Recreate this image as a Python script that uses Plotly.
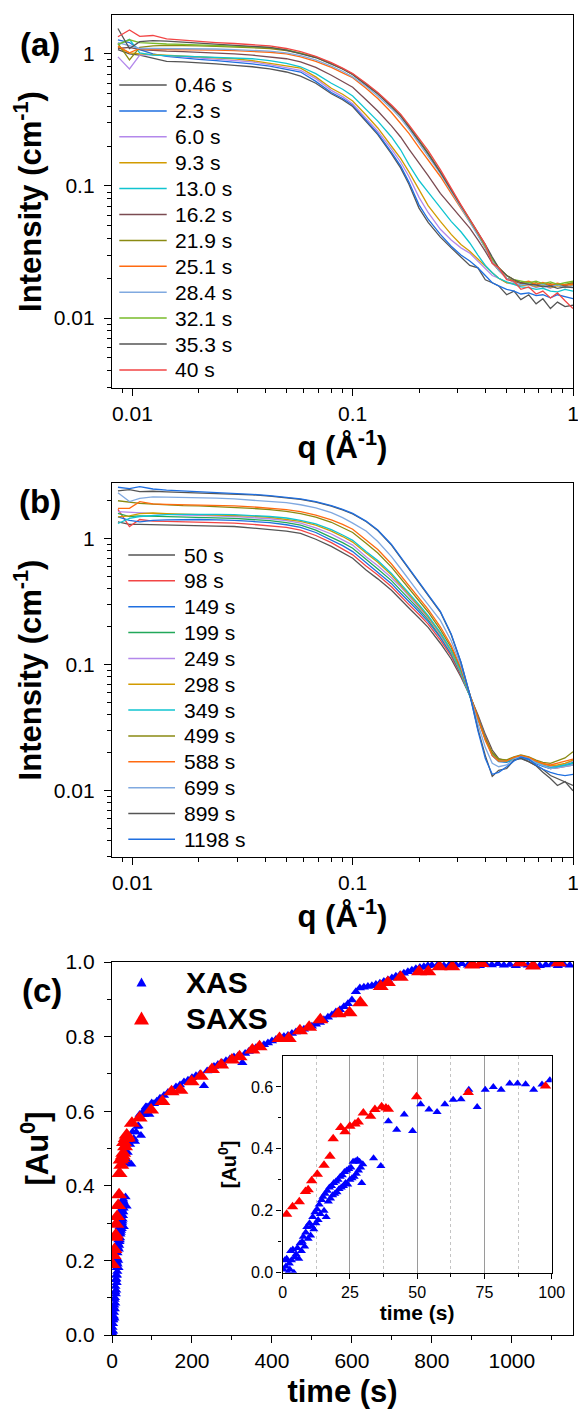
import plotly.graph_objects as go

# ------------------------------------------------------------------ data
Q = [0.0086, 0.0097, 0.0108, 0.0124, 0.0143, 0.017, 0.020, 0.024, 0.029, 0.035,
     0.042, 0.050, 0.058, 0.068, 0.080, 0.090, 0.100, 0.115, 0.130, 0.150,
     0.165, 0.180, 0.200, 0.220, 0.250, 0.280, 0.310, 0.340, 0.370, 0.400,
     0.430, 0.460, 0.500, 0.540, 0.580, 0.630, 0.680, 0.730, 0.790, 0.850,
     0.920, 1.000]

# panel (a)
LEG_A = ["0.46 s", "2.3 s", "6.0 s", "9.3 s", "13.0 s", "16.2 s", "21.9 s",
         "25.1 s", "28.4 s", "32.1 s", "35.3 s", "40 s"]
COL_A = ["#555555", "#1f6fe0", "#b388eb", "#d29b00", "#10c4d0", "#7b4b52",
         "#8a8a12", "#ff6a10", "#80a9e0", "#79bb2a", "#555555", "#f24545"]
I_a_046 = [1.08, 1.00, 0.98, 0.93, 0.88, 0.87, 0.86, 0.84, 0.82, 0.80, 0.77, 0.73, 0.68, 0.60, 0.50, 0.45, 0.40, 0.31, 0.245, 0.175, 0.137, 0.103, 0.068, 0.053, 0.041, 0.034, 0.029, 0.025, 0.024, 0.0195, 0.0185, 0.0175, 0.0150, 0.0160, 0.0138, 0.0150, 0.0128, 0.0140, 0.0118, 0.0132, 0.0122, 0.0125]
I_a_23 = [1.28, 1.22, 1.08, 1.00, 0.96, 0.93, 0.91, 0.89, 0.87, 0.84, 0.81, 0.77, 0.73, 0.62, 0.51, 0.46, 0.41, 0.315, 0.25, 0.18, 0.142, 0.107, 0.072, 0.056, 0.043, 0.035, 0.030, 0.027, 0.024, 0.021, 0.0185, 0.0175, 0.0165, 0.0160, 0.0152, 0.0155, 0.0148, 0.0150, 0.0142, 0.0150, 0.0145, 0.0140]
I_a_60 = [0.95, 0.77, 0.98, 0.99, 0.97, 0.95, 0.94, 0.92, 0.90, 0.87, 0.83, 0.79, 0.75, 0.65, 0.53, 0.475, 0.42, 0.325, 0.26, 0.19, 0.152, 0.118, 0.082, 0.063, 0.047, 0.039, 0.034, 0.031, 0.027, 0.024, 0.021, 0.020, 0.0185, 0.0180, 0.0175, 0.0178, 0.0170, 0.0175, 0.0168, 0.0178, 0.0172, 0.0190]
I_a_93 = [1.12, 1.02, 1.00, 0.99, 0.98, 0.96, 0.95, 0.94, 0.92, 0.89, 0.85, 0.81, 0.78, 0.67, 0.55, 0.495, 0.44, 0.345, 0.275, 0.20, 0.162, 0.128, 0.094, 0.071, 0.054, 0.043, 0.036, 0.032, 0.028, 0.0245, 0.022, 0.020, 0.0185, 0.0182, 0.0175, 0.0180, 0.0172, 0.0178, 0.0170, 0.0176, 0.0170, 0.0178]
I_a_130 = [1.17, 1.29, 1.02, 0.98, 0.97, 0.96, 0.96, 0.95, 0.94, 0.92, 0.89, 0.85, 0.80, 0.71, 0.60, 0.54, 0.48, 0.38, 0.31, 0.235, 0.188, 0.145, 0.11, 0.09, 0.068, 0.054, 0.045, 0.037, 0.030, 0.025, 0.022, 0.020, 0.0188, 0.0180, 0.0172, 0.0170, 0.0165, 0.0168, 0.0160, 0.0158, 0.0165, 0.0160]
I_a_162 = [1.10, 1.12, 1.08, 1.06, 1.05, 1.04, 1.03, 1.02, 1.00, 0.98, 0.95, 0.92, 0.87, 0.79, 0.69, 0.62, 0.56, 0.45, 0.37, 0.285, 0.235, 0.19, 0.15, 0.12, 0.088, 0.070, 0.058, 0.048, 0.039, 0.032, 0.026, 0.023, 0.020, 0.0190, 0.0182, 0.0185, 0.0178, 0.0182, 0.0175, 0.0180, 0.0176, 0.0182]
I_a_219 = [1.20, 0.90, 1.12, 1.15, 1.16, 1.16, 1.15, 1.14, 1.13, 1.12, 1.10, 1.06, 1.01, 0.94, 0.84, 0.77, 0.70, 0.59, 0.50, 0.40, 0.34, 0.28, 0.22, 0.175, 0.126, 0.092, 0.070, 0.055, 0.043, 0.034, 0.027, 0.023, 0.020, 0.0190, 0.0185, 0.0180, 0.0185, 0.0178, 0.0182, 0.0176, 0.0180, 0.0185]
I_a_251 = [1.15, 1.02, 1.10, 1.08, 1.08, 1.08, 1.08, 1.07, 1.06, 1.05, 1.03, 1.00, 0.95, 0.88, 0.79, 0.72, 0.66, 0.55, 0.46, 0.36, 0.30, 0.25, 0.195, 0.157, 0.118, 0.088, 0.068, 0.054, 0.043, 0.034, 0.028, 0.024, 0.021, 0.0195, 0.0185, 0.0190, 0.0180, 0.0186, 0.0178, 0.0184, 0.0178, 0.0180]
I_a_284 = [1.22, 1.15, 1.10, 1.10, 1.10, 1.10, 1.10, 1.09, 1.08, 1.07, 1.05, 1.02, 0.97, 0.90, 0.81, 0.74, 0.67, 0.57, 0.48, 0.385, 0.325, 0.27, 0.21, 0.168, 0.124, 0.091, 0.069, 0.054, 0.043, 0.034, 0.027, 0.023, 0.020, 0.0185, 0.0178, 0.0182, 0.0175, 0.0180, 0.0172, 0.0178, 0.0170, 0.0175]
I_a_321 = [1.18, 1.28, 1.22, 1.20, 1.19, 1.18, 1.17, 1.16, 1.15, 1.14, 1.12, 1.08, 1.02, 0.95, 0.85, 0.775, 0.70, 0.595, 0.505, 0.405, 0.345, 0.285, 0.225, 0.178, 0.128, 0.093, 0.071, 0.055, 0.044, 0.035, 0.028, 0.024, 0.021, 0.0195, 0.0190, 0.0185, 0.0190, 0.0182, 0.0188, 0.0180, 0.0185, 0.0190]
I_a_353 = [1.56, 1.10, 1.24, 1.26, 1.25, 1.23, 1.21, 1.19, 1.17, 1.15, 1.12, 1.07, 1.01, 0.94, 0.84, 0.77, 0.70, 0.59, 0.50, 0.40, 0.34, 0.28, 0.22, 0.176, 0.127, 0.093, 0.071, 0.056, 0.045, 0.036, 0.029, 0.024, 0.021, 0.0195, 0.0185, 0.0180, 0.0178, 0.0172, 0.0175, 0.0168, 0.0172, 0.0170]
I_a_40 = [1.35, 1.52, 1.36, 1.38, 1.30, 1.27, 1.24, 1.22, 1.20, 1.18, 1.15, 1.10, 1.04, 0.96, 0.86, 0.78, 0.71, 0.60, 0.51, 0.41, 0.35, 0.29, 0.23, 0.185, 0.133, 0.095, 0.072, 0.056, 0.044, 0.036, 0.026, 0.024, 0.0195, 0.0190, 0.0165, 0.0172, 0.0152, 0.0160, 0.0142, 0.0155, 0.0135, 0.0118]

# panel (b)
LEG_B = ["50 s", "98 s", "149 s", "199 s", "249 s", "298 s", "349 s", "499 s",
         "588 s", "699 s", "899 s", "1198 s"]
COL_B = ["#555555", "#f24545", "#1f6fe0", "#22a85a", "#b388eb", "#d29b00",
         "#10c4d0", "#8a8a12", "#ff6a10", "#80a9e0", "#555555", "#1f6fe0"]
I_b_50 = [1.36, 1.30, 1.30, 1.29, 1.28, 1.28, 1.27, 1.26, 1.25, 1.22, 1.19, 1.15, 1.10, 0.99, 0.87, 0.78, 0.70, 0.564, 0.48, 0.39, 0.326, 0.282, 0.235, 0.198, 0.148, 0.111, 0.080, 0.057, 0.040, 0.028, 0.021, 0.018, 0.0172, 0.0178, 0.0182, 0.0170, 0.0158, 0.0148, 0.0132, 0.0125, 0.0118, 0.0110]
I_b_98 = [1.71, 1.25, 1.42, 1.38, 1.37, 1.36, 1.35, 1.34, 1.33, 1.30, 1.27, 1.23, 1.17, 1.06, 0.93, 0.83, 0.745, 0.607, 0.515, 0.415, 0.347, 0.30, 0.25, 0.21, 0.157, 0.117, 0.082, 0.057, 0.039, 0.027, 0.020, 0.0175, 0.0170, 0.0178, 0.0185, 0.0178, 0.0165, 0.0158, 0.0150, 0.0152, 0.0155, 0.0160]
I_b_149 = [1.49, 1.40, 1.36, 1.40, 1.41, 1.42, 1.42, 1.41, 1.40, 1.37, 1.34, 1.29, 1.23, 1.12, 0.98, 0.88, 0.79, 0.645, 0.545, 0.44, 0.369, 0.318, 0.263, 0.22, 0.164, 0.121, 0.084, 0.057, 0.038, 0.026, 0.019, 0.0170, 0.0168, 0.0176, 0.0184, 0.0176, 0.0164, 0.0156, 0.0150, 0.0154, 0.0158, 0.0165]
I_b_199 = [1.59, 1.50, 1.52, 1.51, 1.50, 1.49, 1.48, 1.47, 1.45, 1.42, 1.39, 1.34, 1.28, 1.17, 1.03, 0.93, 0.84, 0.68, 0.575, 0.465, 0.392, 0.335, 0.275, 0.228, 0.169, 0.124, 0.085, 0.057, 0.038, 0.026, 0.0195, 0.0172, 0.0170, 0.0180, 0.0186, 0.0180, 0.0168, 0.0160, 0.0154, 0.0156, 0.0160, 0.0168]
I_b_249 = [1.64, 1.62, 1.60, 1.57, 1.55, 1.54, 1.53, 1.52, 1.50, 1.47, 1.44, 1.39, 1.33, 1.22, 1.09, 0.98, 0.89, 0.72, 0.61, 0.49, 0.416, 0.35, 0.285, 0.235, 0.172, 0.126, 0.086, 0.057, 0.037, 0.026, 0.020, 0.0175, 0.0172, 0.0182, 0.0188, 0.0182, 0.0170, 0.0162, 0.0156, 0.0158, 0.0163, 0.0172]
I_b_298 = [1.49, 1.52, 1.58, 1.60, 1.58, 1.57, 1.56, 1.55, 1.53, 1.51, 1.48, 1.43, 1.37, 1.28, 1.15, 1.04, 0.94, 0.77, 0.65, 0.515, 0.43, 0.36, 0.292, 0.24, 0.177, 0.128, 0.087, 0.057, 0.037, 0.026, 0.020, 0.0176, 0.0174, 0.0184, 0.0190, 0.0184, 0.0172, 0.0163, 0.0158, 0.0160, 0.0165, 0.0175]
I_b_349 = [1.32, 1.45, 1.50, 1.53, 1.55, 1.56, 1.57, 1.56, 1.55, 1.53, 1.50, 1.46, 1.40, 1.31, 1.18, 1.07, 0.97, 0.79, 0.67, 0.53, 0.443, 0.37, 0.30, 0.245, 0.18, 0.13, 0.088, 0.057, 0.037, 0.0255, 0.0195, 0.0172, 0.0170, 0.0180, 0.0186, 0.0178, 0.0166, 0.0158, 0.0152, 0.0155, 0.0160, 0.0166]
I_b_499 = [2.00, 1.95, 1.91, 1.88, 1.85, 1.83, 1.82, 1.80, 1.77, 1.74, 1.70, 1.65, 1.58, 1.48, 1.35, 1.23, 1.12, 0.92, 0.77, 0.595, 0.485, 0.40, 0.32, 0.262, 0.19, 0.137, 0.092, 0.058, 0.037, 0.026, 0.020, 0.0178, 0.0176, 0.0186, 0.0192, 0.0186, 0.0175, 0.0168, 0.0165, 0.0172, 0.0182, 0.0204]
I_b_588 = [1.74, 1.74, 1.97, 1.89, 1.87, 1.86, 1.85, 1.84, 1.82, 1.79, 1.75, 1.70, 1.64, 1.54, 1.41, 1.30, 1.19, 0.98, 0.82, 0.63, 0.51, 0.42, 0.335, 0.275, 0.20, 0.142, 0.094, 0.058, 0.036, 0.025, 0.019, 0.0172, 0.0172, 0.0184, 0.0190, 0.0184, 0.0172, 0.0165, 0.0160, 0.0165, 0.0170, 0.0178]
I_b_699 = [2.32, 1.97, 2.09, 2.15, 2.14, 2.13, 2.12, 2.10, 2.07, 2.03, 1.99, 1.93, 1.86, 1.76, 1.61, 1.47, 1.33, 1.15, 0.95, 0.72, 0.58, 0.47, 0.37, 0.30, 0.225, 0.155, 0.098, 0.058, 0.034, 0.022, 0.0165, 0.0155, 0.0160, 0.0178, 0.0186, 0.0180, 0.0166, 0.0158, 0.0150, 0.0152, 0.0156, 0.0160]
I_b_899 = [2.40, 2.45, 2.36, 2.38, 2.35, 2.33, 2.32, 2.30, 2.27, 2.23, 2.18, 2.12, 2.05, 1.95, 1.81, 1.69, 1.57, 1.37, 1.16, 0.89, 0.71, 0.575, 0.445, 0.355, 0.262, 0.173, 0.104, 0.058, 0.031, 0.019, 0.0130, 0.0145, 0.0150, 0.0175, 0.0180, 0.0170, 0.0158, 0.0140, 0.0125, 0.0110, 0.0118, 0.0100]
I_b_1198 = [2.56, 2.50, 2.59, 2.48, 2.43, 2.40, 2.36, 2.33, 2.29, 2.25, 2.20, 2.14, 2.07, 1.97, 1.83, 1.71, 1.59, 1.38, 1.17, 0.90, 0.72, 0.58, 0.45, 0.36, 0.265, 0.175, 0.105, 0.058, 0.030, 0.018, 0.0135, 0.0140, 0.0155, 0.0172, 0.0185, 0.0178, 0.0160, 0.0148, 0.0140, 0.0135, 0.0132, 0.0135]

# panel (c)
XAS_T = [0.3, 0.8, 1.2, 1.5, 2.0, 2.5, 2.7, 3.0, 3.3, 3.8,
         4.2, 4.5, 5.0, 5.5, 6.0, 6.5, 7.0, 7.3, 7.7, 8.2,
         8.6, 9.0, 9.5, 10.0, 10.4, 10.8, 11.2, 11.6, 12.0, 12.4,
         12.8, 13.2, 13.6, 14.0, 14.5, 15.0, 15.4, 15.8, 16.2, 16.6,
         17.0, 17.4, 17.8, 18.2, 18.6, 19.0, 19.4, 19.8, 20.2, 20.6,
         21.0, 21.4, 21.8, 22.2, 22.6, 23.0, 23.4, 23.8, 24.2, 24.6,
         25.0, 25.4, 25.8, 26.2, 26.6, 27.0, 27.4, 27.8, 28.2, 28.6,
         29.0, 29.4, 29.8, 33.8, 36.5, 39.3, 42.4, 45.2, 48.3, 51.3,
         54.4, 57.4, 60.3, 63.4, 66.3, 69.2, 72.3, 75.3, 78.3, 81.2,
         84.4, 87.3, 90.3, 93.3, 96.4, 99.3,
         105, 112, 120, 130, 140, 150, 160, 170, 180, 190,
         200, 210, 220, 230, 238, 246, 255, 265, 275, 285,
         295, 305, 315, 326, 333, 342, 350, 360, 370, 380,
         390, 400, 410, 420, 430, 440, 450, 460, 470, 480,
         490, 500, 510, 520, 530, 540, 550, 560, 570, 580,
         590, 600, 610, 620, 630, 640, 650, 660, 670, 680,
         690, 700, 710, 720, 730, 740, 750, 760, 770, 780,
         790, 800, 815, 830, 845, 860, 875, 890, 905, 920,
         935, 950, 965, 980, 995, 1010, 1025, 1040, 1055, 1070,
         1085, 1100, 1115, 1130, 1145]
XAS_A = [0.01, 0.04, 0.02, 0.045, 0.0, 0.03, 0.01, 0.07, 0.04, 0.075,
         0.0, 0.05, 0.06, 0.08, 0.045, 0.095, 0.07, 0.10, 0.116, 0.085,
         0.13, 0.148, 0.11, 0.16, 0.12, 0.15, 0.18, 0.14, 0.195, 0.16,
         0.205, 0.17, 0.22, 0.19, 0.235, 0.245, 0.20, 0.255, 0.18, 0.265,
         0.23, 0.275, 0.24, 0.28, 0.25, 0.29, 0.255, 0.295, 0.26, 0.30,
         0.27, 0.31, 0.275, 0.315, 0.28, 0.325, 0.29, 0.33, 0.285, 0.335,
         0.30, 0.34, 0.305, 0.358, 0.31, 0.36, 0.32, 0.364, 0.33, 0.358,
         0.34, 0.29, 0.35, 0.37, 0.345, 0.489, 0.462, 0.511, 0.458, 0.544,
         0.527, 0.519, 0.544, 0.559, 0.560, 0.591, 0.535, 0.591, 0.600, 0.591,
         0.611, 0.611, 0.609, 0.591, 0.608, 0.622,
         0.620, 0.627, 0.635, 0.642, 0.650, 0.655, 0.665, 0.670, 0.678, 0.683,
         0.690, 0.695, 0.700, 0.668, 0.708, 0.712, 0.720, 0.725, 0.730, 0.735,
         0.740, 0.745, 0.748, 0.730, 0.755, 0.760, 0.765, 0.770, 0.775, 0.778,
         0.783, 0.788, 0.792, 0.795, 0.800, 0.803, 0.808, 0.812, 0.815, 0.820,
         0.824, 0.828, 0.833, 0.838, 0.845, 0.852, 0.858, 0.866, 0.872, 0.880,
         0.888, 0.898, 0.920, 0.930, 0.932, 0.934, 0.936, 0.940, 0.943, 0.948,
         0.952, 0.957, 0.962, 0.965, 0.970, 0.974, 0.978, 0.982, 0.985, 0.987,
         0.990, 0.991, 0.993, 0.990, 0.994, 0.992, 0.995, 0.991, 0.993, 0.990,
         0.994, 0.992, 0.995, 0.991, 0.993, 0.990, 0.994, 0.991, 0.993, 0.990,
         0.992, 0.994, 0.990, 0.993, 0.991]
SAXS_T = [1.5, 3.7, 6.2, 8.5, 9.5, 10.8, 12.9, 15.4, 17.6, 18.8,
          21.6, 23.2, 25.0, 26.9, 28.1, 30.0, 32.7, 34.3, 36.8, 38.4,
          39.3, 49.8, 69.0, 97.7, 126, 149, 171, 199, 222, 250,
          273, 300, 319, 351, 369, 419, 442, 470, 493, 521,
          566, 594, 621, 672, 690, 722, 768, 791, 819, 851,
          901, 924, 1021, 1053, 1117]
SAXS_A = [0.189, 0.213, 0.229, 0.262, 0.268, 0.297, 0.318, 0.347, 0.376, 0.433,
          0.469, 0.455, 0.473, 0.48, 0.487, 0.516, 0.505, 0.527, 0.536, 0.532,
          0.528, 0.568, 0.582, 0.603, 0.626, 0.652, 0.656, 0.679, 0.694, 0.712,
          0.724, 0.737, 0.746, 0.764, 0.773, 0.795, 0.795, 0.816, 0.825, 0.845,
          0.861, 0.864, 0.891, 0.934, 0.945, 0.959, 0.974, 0.974, 0.987, 0.987,
          0.992, 0.996, 0.998, 0.989, 0.998]

CURVES_A = [I_a_046, I_a_23, I_a_60, I_a_93, I_a_130, I_a_162, I_a_219,
            I_a_251, I_a_284, I_a_321, I_a_353, I_a_40]
CURVES_B = [I_b_50, I_b_98, I_b_149, I_b_199, I_b_249, I_b_298, I_b_349,
            I_b_499, I_b_588, I_b_699, I_b_899, I_b_1198]

# ------------------------------------------------------------------ layout geometry (pixels)
W, H = 578, 1409
ML, MR, MT, MB = 112, 5, 15, 74
PW = W - ML - MR
PH = H - MT - MB


def px(x):
    return (x - ML) / PW


def py(y):
    return (H - MB - y) / PH


FONT = "Liberation Sans, Arial, sans-serif"
BLACK = "black"

fig = go.Figure()

for name, ys, col in zip(LEG_A, CURVES_A, COL_A):
    fig.add_trace(go.Scatter(x=Q, y=ys, mode="lines", name=name,
                             line=dict(color=col, width=1.3),
                             showlegend=False, xaxis="x", yaxis="y"))
for name, ys, col in zip(LEG_B, CURVES_B, COL_B):
    fig.add_trace(go.Scatter(x=Q, y=ys, mode="lines", name=name,
                             line=dict(color=col, width=1.3),
                             showlegend=False, xaxis="x2", yaxis="y2"))

fig.add_trace(go.Scatter(x=XAS_T, y=XAS_A, mode="markers", name="XAS",
                         marker=dict(symbol="triangle-up", size=9, color="#0000ff"),
                         showlegend=False, xaxis="x3", yaxis="y3"))
fig.add_trace(go.Scatter(x=SAXS_T, y=SAXS_A, mode="markers", name="SAXS",
                         marker=dict(symbol="triangle-up", size=14, color="#ff0000"),
                         showlegend=False, xaxis="x3", yaxis="y3"))
fig.add_trace(go.Scatter(x=XAS_T, y=XAS_A, mode="markers", name="XAS",
                         marker=dict(symbol="triangle-up", size=8, color="#0000ff"),
                         showlegend=False, xaxis="x4", yaxis="y4"))
fig.add_trace(go.Scatter(x=SAXS_T, y=SAXS_A, mode="markers", name="SAXS",
                         marker=dict(symbol="triangle-up", size=10, color="#ff0000"),
                         showlegend=False, xaxis="x4", yaxis="y4"))


def base_axis(size=21, ticklen=7):
    return dict(showline=True, linecolor=BLACK, linewidth=1.3, mirror=True,
                ticks="outside", ticklen=ticklen, tickwidth=1.3, tickcolor=BLACK,
                showgrid=False, zeroline=False, automargin=False,
                ticklabeloverflow="allow",
                tickfont=dict(family=FONT, size=size, color=BLACK))


MINOR_LOG = [m * 10.0 ** e for e in (-3, -2, -1, 0) for m in range(2, 10)]
LOG_TICKS = [0.01, 0.1, 1]
LOG_TEXT = ["0.01", "0.1", "1"]


def log_minor():
    return dict(ticks="outside", ticklen=4, tickwidth=1.1, tickcolor=BLACK,
                tickmode="array", tickvals=MINOR_LOG, showgrid=False)


def title(text, size, standoff):
    return dict(text=text, font=dict(family=FONT, size=size, color=BLACK), standoff=standoff)


QTITLE = "<b>q (Å<sup>-1</sup>)</b>"
ITITLE = "<b>Intensity (cm<sup>-1</sup>)</b>"

fig.update_layout(
    width=W, height=H, autosize=False,
    margin=dict(l=ML, r=MR, t=MT, b=MB, pad=0, autoexpand=False),
    paper_bgcolor="white", plot_bgcolor="white",
    showlegend=False,
    xaxis=dict(base_axis(), type="log", range=[-2.0925, 0.0], domain=[0, 1], anchor="y",
               tickvals=LOG_TICKS, ticktext=LOG_TEXT, minor=log_minor(),
               title=title(QTITLE, 31, 8)),
    yaxis=dict(base_axis(), type="log", range=[-2.530, 0.295], domain=[py(388), py(15)],
               anchor="x", tickvals=LOG_TICKS, ticktext=LOG_TEXT, minor=log_minor(),
               ticklabelstandoff=5, title=title(ITITLE, 31, 2)),
    xaxis2=dict(base_axis(), type="log", range=[-2.0925, 0.0], domain=[0, 1], anchor="y2",
                tickvals=LOG_TICKS, ticktext=LOG_TEXT, minor=log_minor(),
                title=title(QTITLE, 31, 8)),
    yaxis2=dict(base_axis(), type="log", range=[-2.526, 0.442], domain=[py(857), py(483)],
                anchor="x2", tickvals=LOG_TICKS, ticktext=LOG_TEXT, minor=log_minor(),
                ticklabelstandoff=5, title=title(ITITLE, 31, 2)),
    xaxis3=dict(base_axis(), range=[0, 1153], domain=[0, 1], anchor="y3",
                tickvals=[0, 200, 400, 600, 800, 1000],
                minor=dict(ticks="outside", ticklen=4, tickwidth=1.1, tickcolor=BLACK,
                           dtick=100, tick0=0, showgrid=False),
                title=title("<b>time (s)</b>", 31, 8)),
    yaxis3=dict(base_axis(), range=[0, 1.0], domain=[0, py(962)], anchor="x3",
                tickvals=[0, 0.2, 0.4, 0.6, 0.8, 1.0],
                ticktext=["0.0", "0.2", "0.4", "0.6", "0.8", "1.0"],
                minor=dict(ticks="outside", ticklen=4, tickwidth=1.1, tickcolor=BLACK,
                           dtick=0.1, tick0=0, showgrid=False),
                ticklabelstandoff=5,
                title=title("<b>[Au<sup>0</sup>]</b>", 31, 7)),
    xaxis4=dict(base_axis(16, 5), range=[0, 100], domain=[px(282.6), px(551.7)], anchor="y4",
                tickvals=[0, 25, 50, 75, 100], showgrid=True, gridcolor="#9a9a9a", gridwidth=1,
                minor=dict(ticks="outside", ticklen=3, tickwidth=1, tickcolor=BLACK,
                           tickvals=[12.5, 37.5, 62.5, 87.5], showgrid=True,
                           gridcolor="#c4c4c4", gridwidth=1, griddash="dot"),
                title=title("<b>time (s)</b>", 21, 4)),
    yaxis4=dict(base_axis(16, 5), range=[0, 0.7], domain=[py(1272.7), py(1056)], anchor="x4",
                tickvals=[0, 0.2, 0.4, 0.6], ticktext=["0.0", "0.2", "0.4", "0.6"],
                minor=dict(ticks="outside", ticklen=3, tickwidth=1, tickcolor=BLACK,
                           tickvals=[0.1, 0.3, 0.5], showgrid=False),
                title=title("<b>[Au<sup>0</sup>]</b>", 20, 8)),
)

annotations = []
shapes = []

# panel labels
for lab, cx, cy in (("(a)", 40, 44), ("(b)", 40, 502), ("(c)", 42, 990)):
    annotations.append(dict(text="<b>%s</b>" % lab, x=px(cx), y=py(cy), xref="paper", yref="paper",
                            xanchor="center", yanchor="middle", showarrow=False,
                            font=dict(family=FONT, size=33, color=BLACK)))

# line legends for (a) and (b)
for labels, cols, x0, x1, xt, y0, dy in ((LEG_A, COL_A, 119.3, 166.7, 172.5, 85.0, 25.9),
                                         (LEG_B, COL_B, 128.3, 175.0, 181.5, 555.0, 25.85)):
    for i, (lab, col) in enumerate(zip(labels, cols)):
        yy = y0 + i * dy
        shapes.append(dict(type="line", xref="paper", yref="paper",
                           x0=px(x0), x1=px(x1), y0=py(yy), y1=py(yy),
                           line=dict(color=col, width=1.5)))
        annotations.append(dict(text=lab, x=px(xt), y=py(yy), xref="paper", yref="paper",
                                xanchor="left", yanchor="middle", showarrow=False,
                                font=dict(family=FONT, size=21, color=BLACK)))


# marker legend for (c)
def tri(cx, cy, w, h, col):
    p = "M %f,%f L %f,%f L %f,%f Z" % (px(cx - w / 2), py(cy + h / 2), px(cx + w / 2), py(cy + h / 2),
                                      px(cx), py(cy - h / 2))
    return dict(type="path", path=p, xref="paper", yref="paper",
                fillcolor=col, line=dict(color=col, width=0))


shapes.append(tri(141.5, 982, 10, 9, "#0000ff"))
shapes.append(tri(141.5, 1018, 15, 13, "#ff0000"))
for lab, cy in (("XAS", 982), ("SAXS", 1018)):
    annotations.append(dict(text="<b>%s</b>" % lab, x=px(184), y=py(cy), xref="paper", yref="paper",
                            xanchor="left", yanchor="middle", showarrow=False,
                            font=dict(family=FONT, size=30, color=BLACK)))

fig.update_layout(annotations=annotations, shapes=shapes)

fig.write_html("out.html")
